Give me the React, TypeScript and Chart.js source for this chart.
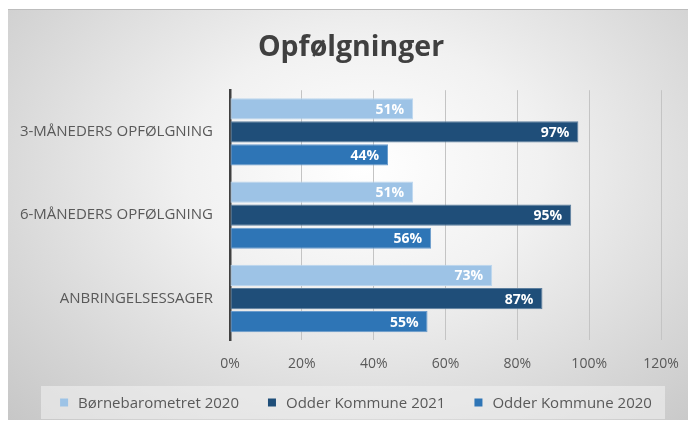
import React, { useEffect, useRef } from "react";
import { Chart, registerables } from "chart.js";

Chart.register(...registerables);

const categories = ["3-MÅNEDERS OPFØLGNING", "6-MÅNEDERS OPFØLGNING", "ANBRINGELSESSAGER"];
const seriesNames = ["Børnebarometret 2020", "Odder Kommune 2021", "Odder Kommune 2020"];
const boernebarometret2020 = [51, 51, 73];
const odder2021 = [97, 95, 87];
const odder2020 = [44, 56, 55];
const xTicks = [0, 20, 40, 60, 80, 100, 120];
const colors = ["#9dc3e6", "#1f4e79", "#2e75b6"];
const borderColors = ["#bcd6ee", "#5d7f9e", "#6a9bcc"];

const FONT = "'Open Sans', 'Noto Sans', sans-serif";

const valueLabels = {
  id: "valueLabels",
  afterDatasetsDraw(chart: any) {
    const ctx = chart.ctx;
    ctx.save();
    ctx.font = `bold 14px ${FONT}`;
    ctx.fillStyle = "#ffffff";
    ctx.textAlign = "right";
    ctx.textBaseline = "middle";
    chart.data.datasets.forEach((ds: any, di: number) => {
      const meta = chart.getDatasetMeta(di);
      meta.data.forEach((bar: any, i: number) => {
        ctx.fillText(`${ds.data[i]}%`, bar.x - 9, bar.y + 1);
      });
    });
    ctx.restore();
  },
};

// Legend drawn below the x axis, in a light box, like the source chart
const customLegend = {
  id: "customLegend",
  afterDraw(chart: any) {
    const ctx = chart.ctx;
    const xAxis = chart.scales.x;
    const cy = xAxis.bottom + 15.5;
    const boxW = 624;
    const boxH = 33;
    ctx.save();
    ctx.fillStyle = "rgba(240,240,240,0.6)";
    ctx.fillRect(chart.width / 2 + 2 - boxW / 2, cy - boxH / 2, boxW, boxH);
    ctx.font = `15px ${FONT}`;
    ctx.textBaseline = "middle";
    ctx.textAlign = "left";
    const sq = 8;
    const gapSqText = 10;
    const gapItems = 29;
    const widths = seriesNames.map((n) => sq + gapSqText + ctx.measureText(n).width);
    const total = widths.reduce((a, b) => a + b, 0) + gapItems * (seriesNames.length - 1);
    let x = chart.width / 2 + 5 - total / 2;
    seriesNames.forEach((n, i) => {
      ctx.fillStyle = colors[i];
      ctx.fillRect(x, cy - sq / 2, sq, sq);
      ctx.fillStyle = "#595959";
      ctx.fillText(n, x + sq + gapSqText, cy + 1);
      x += widths[i] + gapItems;
    });
    ctx.restore();
  },
};

export default function App() {
  const ref = useRef<HTMLCanvasElement>(null);
  useEffect(() => {
    if (!ref.current) return;
    const data = [boernebarometret2020, odder2021, odder2020];
    const chart = new Chart(ref.current, {
      type: "bar",
      data: {
        labels: categories,
        datasets: seriesNames.map((name, i) => ({
          label: name,
          data: data[i],
          backgroundColor: colors[i],
          borderColor: borderColors[i],
          borderWidth: 1,
          borderSkipped: false,
          categoryPercentage: 0.83,
          barPercentage: 0.92,
        })),
      },
      plugins: [valueLabels, customLegend],
      options: {
        indexAxis: "y",
        animation: false,
        responsive: false,
        maintainAspectRatio: false,
        layout: { padding: { left: 10, right: 10, top: 0, bottom: 37 } },
        plugins: {
          title: {
            display: true,
            text: "Opfølgninger",
            color: "#404040",
            font: { family: FONT, size: 28.5, weight: "bold" },
            padding: { top: 21, bottom: 25 },
          },
          legend: { display: false },
          tooltip: { enabled: false },
        },
        scales: {
          x: {
            min: 0,
            max: 120,
            afterBuildTicks: (scale: any) => {
              scale.ticks = xTicks.map((v) => ({ value: v }));
            },
            afterFit: (scale: any) => {
              scale.paddingRight = 35;
            },
            ticks: {
              color: "#595959",
              font: { family: FONT, size: 14 },
              padding: 15,
              callback: (v: any) => `${v}%`,
            },
            grid: { color: "#c4c4c4", lineWidth: 1, drawTicks: false },
            border: { display: false },
          },
          y: {
            afterFit: (scale: any) => {
              scale.width = 214;
            },
            ticks: {
              color: "#595959",
              font: { family: FONT, size: 15 },
              padding: 17,
            },
            grid: { display: false, drawTicks: false },
            border: { display: true, color: "#404040", width: 2.5 },
          },
        },
      },
    } as any);
    return () => chart.destroy();
  }, []);

  return (
    <div
      style={{
        position: "relative",
        width: 696,
        height: 428,
        margin: -8,
        background: "linear-gradient(#ffffff 0 9px, #dadada 9px)",
        overflow: "hidden",
      }}
    >
      <div
        style={{
          position: "absolute",
          left: 6,
          top: 9,
          width: 690,
          height: 415,
          borderTop: "1px solid #bdbdbd",
          boxSizing: "border-box",
          background:
            "radial-gradient(ellipse farthest-corner at 52% 38%, #ffffff 0%, #f1f1f1 35%, #d6d6d6 75%, #c6c6c6 100%)",
        }}
      >
        <canvas ref={ref} width={690} height={414} style={{ display: "block", width: 690, height: 414 }} />
      </div>
    </div>
  );
}
